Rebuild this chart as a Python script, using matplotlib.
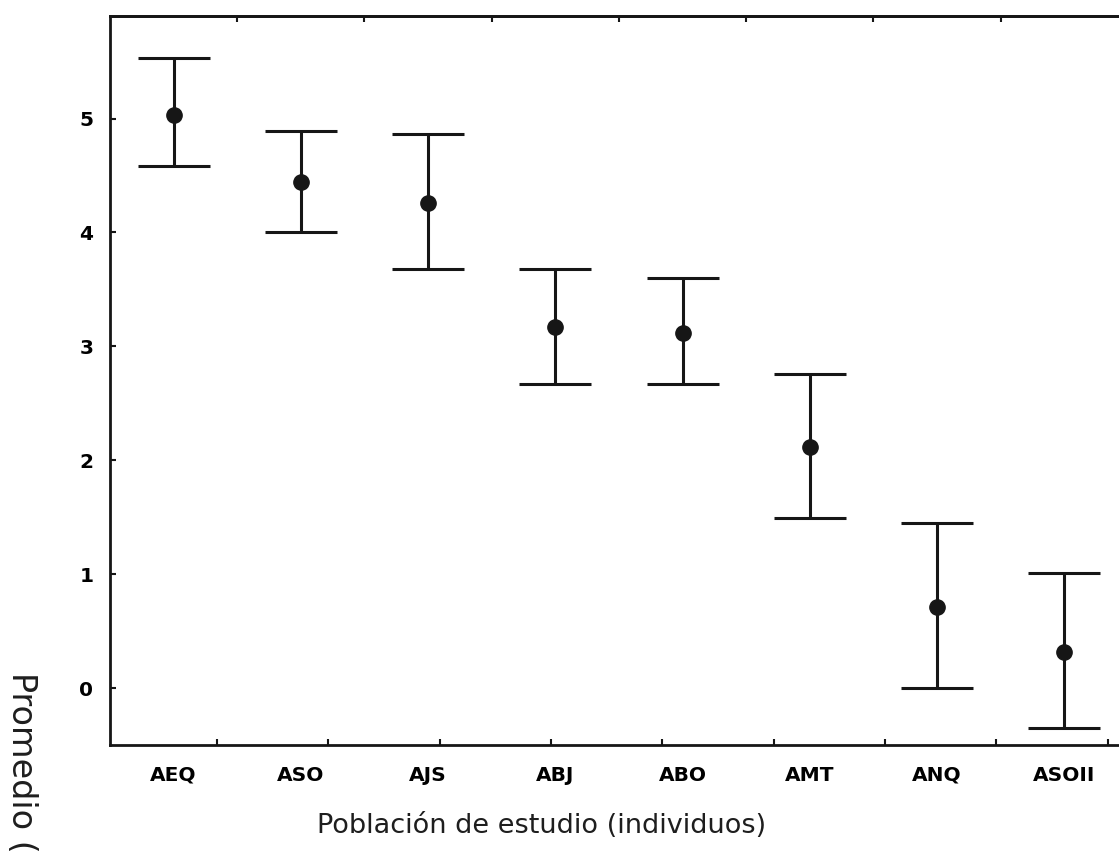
import numpy as np
import matplotlib
matplotlib.use("Agg")
import matplotlib.pyplot as plt

# group labels and values
groups = ["AEQ", "ASO", "AJS", "ABJ", "ABO", "AMT", "ANQ", "ASOII"]
means = [5.03, 4.44, 4.26, 3.17, 3.12, 2.12, 0.71, 0.32]
upper = [5.53, 4.89, 4.86, 3.68, 3.60, 2.76, 1.45, 1.01]
lower = [4.58, 4.00, 3.68, 2.67, 2.67, 1.49, 0.00, -0.35]
y_ticks = [0, 1, 2, 3, 4, 5]

x = np.arange(len(groups))
means = np.array(means)
err = [means - np.array(lower), np.array(upper) - means]

fig = plt.figure(figsize=(11.19, 8.56), dpi=100)
ax = fig.add_axes([0.0983, 0.1297, 0.9097, 0.8516])

ink = "#161616"
ax.errorbar(x, means, yerr=err, fmt="o", color=ink, ecolor=ink,
            markersize=11, elinewidth=2.2, capsize=26, capthick=2.2)

ax.set_xlim(-0.5, 7.5)
ax.set_ylim(-0.5, 5.9)

ax.set_xticks(x)
ax.set_xticklabels(groups, fontsize=14.5, fontweight="bold")
ax.tick_params(axis="x", which="major", length=0, pad=15)
# small inward ticks on bottom spine (odd spacing in the scan)
ax.set_xticks(0.34 + 0.875 * np.arange(9), minor=True)
ax.tick_params(axis="x", which="minor", direction="in", length=4, width=1.5, color=ink)

ax.set_yticks(y_ticks)
ax.set_yticklabels([str(v) for v in y_ticks], fontsize=14.5, fontweight="bold")
ax.tick_params(axis="y", direction="in", length=4, width=1.5, pad=12, color=ink)

top = ax.secondary_xaxis("top")
top.set_xticks(np.arange(len(groups) - 1) + 0.5)
top.set_xticklabels([])
top.tick_params(direction="in", length=4, width=1.5, color=ink)
top.spines["top"].set_linewidth(2)
top.spines["top"].set_color(ink)

for s in ax.spines.values():
    s.set_linewidth(2)
    s.set_color(ink)

ax.set_xlabel("Población de estudio (individuos)", fontsize=19.5, color="#1e1e1e")
ax.xaxis.set_label_coords(0.424, -0.093)

fig.text(0.019, 0.215, "Promedio (", rotation=-90, fontsize=24,
         ha="center", va="top", color="#1e1e1e")

fig.savefig("out.png", dpi=100, facecolor="white")
